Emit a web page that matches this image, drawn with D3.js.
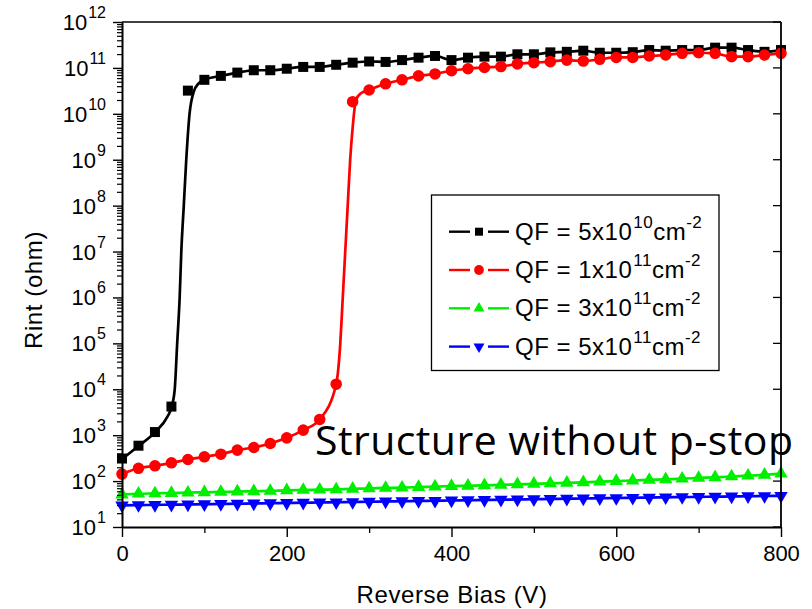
<!DOCTYPE html>
<html>
<head>
<meta charset="utf-8">
<script src="https://d3js.org/d3.v7.min.js"></script>
<style>
  body { margin: 0; background: #fff; }
  svg text { font-family: Arial, "Liberation Sans", sans-serif; fill: #000; }
</style>
</head>
<body>
<div id="chart"></div>
<script>
// bias steps (V) shared by all series
var biasV = d3.range(0, 801, 20);

// measured points, Rint (ohm)
var qf5e10 = [310, 590, 1170, 4200, 3.2e10, 5.5e10, 6.7e10, 7.9e10, 8.9e10, 8.9e10,
  9.6e10, 1.05e11, 1.05e11, 1.17e11, 1.3e11, 1.38e11, 1.35e11, 1.48e11, 1.67e11, 1.82e11,
  1.48e11, 1.67e11, 1.76e11, 1.76e11, 1.98e11, 1.98e11, 2.18e11, 2.24e11, 2.37e11, 2.14e11,
  2.14e11, 2.2e11, 2.45e11, 2.37e11, 2.45e11, 2.45e11, 2.76e11, 2.76e11, 2.45e11, 2.24e11, 2.45e11];
var qf1e11 = [142, 190, 215, 250, 295, 338, 386, 473, 540, 660,
  875, 1290, 2200, 12900, 1.84e10, 3.3e10, 4.5e10, 5.5e10, 6.7e10, 7.4e10,
  8.7e10, 9.6e10, 1.02e11, 1.07e11, 1.22e11, 1.3e11, 1.37e11, 1.48e11, 1.41e11, 1.54e11,
  1.69e11, 1.69e11, 1.82e11, 1.91e11, 2.08e11, 2.14e11, 2.08e11, 1.76e11, 1.76e11, 1.91e11, 2.08e11];
var qf3e11 = [51, 53, 54, 55, 56, 57, 58, 59, 60, 61,
  63, 64, 65, 66, 68, 69, 71, 72, 74, 76,
  78, 79, 81, 83, 85, 87, 89, 92, 94, 97,
  100, 103, 106, 109, 113, 117, 121, 126, 131, 137, 145];
var qf5e11 = [29.5, 30, 30.3, 30.7, 31, 31.4, 31.8, 32.2, 32.6, 33,
  33.4, 33.8, 34.2, 34.6, 35, 35.5, 36, 36.4, 36.9, 37.3,
  37.8, 38.3, 38.8, 39.3, 39.8, 40.3, 40.8, 41.3, 41.8, 42.3,
  42.8, 43.3, 43.8, 44.3, 44.8, 45.3, 45.8, 46.3, 46.8, 47.3, 47.8];

// fitted curves through the steep turn-on
var fitBlackV = [0, 20, 40, 55, 60, 64, 67, 70, 72, 75, 78, 82, 87, 93, 100];
var fitBlackR = [300, 580, 1150, 2500, 4000, 1e4, 1e5, 1e6, 1e7, 1e8, 1e9, 1e10, 3e10, 4.6e10, 5.5e10];
var fitRedV = [260, 265, 268, 271, 274, 277, 280, 284, 290, 300];
var fitRedR = [12900, 1e5, 1e6, 1e7, 1e8, 1e9, 5e9, 2e10, 2.8e10, 3.3e10];

var seriesNames = ["5x10|10", "1x10|11", "3x10|11", "5x10|11"];
var seriesColors = ["#000000", "#ff0000", "#00ee00", "#0000ff"];

var yTickExp = d3.range(1, 13);
var xTicks = [0, 200, 400, 600, 800];

var W = 812, H = 609;
var margin = {left: 122, right: 31, top: 22, bottom: 82};

var svg = d3.select("#chart").append("svg")
  .attr("width", W).attr("height", H);

var x = d3.scaleLinear().domain([0, 800]).range([margin.left, W - margin.right]);
var y = d3.scaleLog().domain([10, 1e12]).range([H - margin.bottom, margin.top]);

function pts(vals) {
  return biasV.map(function(v, i) { return [v, vals[i]]; });
}

// line paths: black & red use the fit in the steep part, then follow points
var blackLine = fitBlackV.map(function(v, i) { return [v, fitBlackR[i]]; })
  .concat(pts(qf5e10).filter(function(d) { return d[0] > 100; }));
var redLine = pts(qf1e11).filter(function(d) { return d[0] < 260; })
  .concat(fitRedV.map(function(v, i) { return [v, fitRedR[i]]; }))
  .concat(pts(qf1e11).filter(function(d) { return d[0] > 300; }));

var lineGen = d3.line()
  .x(function(d) { return x(d[0]); })
  .y(function(d) { return y(d[1]); })
  .curve(d3.curveMonotoneX);

var lines = [blackLine, redLine, pts(qf3e11), pts(qf5e11)];
var marks = [pts(qf5e10), pts(qf1e11), pts(qf3e11), pts(qf5e11)];
var symbols = [
  d3.symbol().type(d3.symbolSquare).size(100),
  d3.symbol().type(d3.symbolCircle).size(105),
  d3.symbol().type(d3.symbolTriangle).size(78),
  d3.symbol().type(d3.symbolTriangle).size(78)
];
var legendSymbols = [
  d3.symbol().type(d3.symbolSquare).size(64),
  d3.symbol().type(d3.symbolCircle).size(75),
  d3.symbol().type(d3.symbolTriangle).size(52),
  d3.symbol().type(d3.symbolTriangle).size(52)
];
var rot = [0, 0, 0, 180];

var plot = svg.append("g");
lines.forEach(function(l, i) {
  plot.append("path")
    .attr("d", lineGen(l))
    .attr("fill", "none")
    .attr("stroke", seriesColors[i])
    .attr("stroke-width", 2.7);
  plot.selectAll(null)
    .data(marks[i])
    .enter().append("path")
    .attr("d", symbols[i])
    .attr("transform", function(d) {
      return "translate(" + x(d[0]) + "," + y(d[1]) + ") rotate(" + rot[i] + ")";
    })
    .attr("fill", seriesColors[i]);
});

// frame: top + right
svg.append("line")
  .attr("x1", x(0)).attr("x2", x(800)).attr("y1", y(1e12)).attr("y2", y(1e12))
  .attr("stroke", "#000").attr("stroke-width", 1.5);
svg.append("line")
  .attr("x1", x(800)).attr("x2", x(800)).attr("y1", y(1e12)).attr("y2", y(10))
  .attr("stroke", "#000").attr("stroke-width", 1.8);
svg.selectAll(null).data(yTickExp).enter().append("line")
  .attr("x1", x(800) - 8).attr("x2", x(800))
  .attr("y1", function(e) { return y(Math.pow(10, e)); })
  .attr("y2", function(e) { return y(Math.pow(10, e)); })
  .attr("stroke", "#000").attr("stroke-width", 1.3);

// left axis with minor ticks
var minorY = [];
yTickExp.forEach(function(e) {
  if (e > 1) d3.range(2, 10).forEach(function(k) { minorY.push(k * Math.pow(10, e - 1)); });
});
svg.append("g")
  .attr("transform", "translate(" + x(0) + ",0)")
  .call(d3.axisLeft(y).tickValues(minorY).tickSize(5).tickFormat(""))
  .call(function(g) { g.select(".domain").remove(); })
  .selectAll("line").attr("stroke-width", 1.2);
var yAxis = svg.append("g")
  .attr("transform", "translate(" + x(0) + ",0)")
  .call(d3.axisLeft(y).tickValues(yTickExp.map(function(e) { return Math.pow(10, e); }))
    .tickSize(9).tickSizeOuter(0).tickFormat(""));
yAxis.select(".domain").attr("stroke-width", 2);
yAxis.selectAll("line").attr("stroke-width", 1.4);

var yLab = svg.selectAll(null).data(yTickExp).enter().append("text")
  .attr("x", 106)
  .attr("y", function(e) { return y(Math.pow(10, e)) + 8; })
  .attr("text-anchor", "end")
  .style("font-size", "22px");
yLab.append("tspan").text("10");
yLab.append("tspan").attr("dy", -12).attr("dx", 1).style("font-size", "16px").text(function(e) { return e; });

// bottom axis
svg.append("g")
  .attr("transform", "translate(0," + y(10) + ")")
  .call(d3.axisBottom(x).tickValues([100, 300, 500, 700]).tickSize(6).tickFormat(""))
  .call(function(g) { g.select(".domain").remove(); })
  .selectAll("line").attr("stroke-width", 1.3);
var xAxis = svg.append("g")
  .attr("transform", "translate(0," + y(10) + ")")
  .call(d3.axisBottom(x).tickValues(xTicks).tickSize(10).tickSizeOuter(0).tickPadding(8));
xAxis.select(".domain").attr("stroke-width", 2);
xAxis.selectAll("line").attr("stroke-width", 1.4);
xAxis.selectAll("text")
  .style("font-size", "22px")
  .style("font-family", "Arial, 'Liberation Sans', sans-serif")
  .attr("fill", "#000");

// axis titles
svg.append("text")
  .attr("x", 452)
  .attr("y", 603)
  .attr("text-anchor", "middle")
  .style("font-size", "24px")
  .style("letter-spacing", "0.6px")
  .text("Reverse Bias (V)");
svg.append("text")
  .attr("transform", "translate(42,290) rotate(-90)")
  .attr("text-anchor", "middle")
  .style("font-size", "24px")
  .style("letter-spacing", "0.6px")
  .text("Rint (ohm)");

// legend
var leg = svg.append("g");
leg.append("rect")
  .attr("x", 431.5).attr("y", 195).attr("width", 287.5).attr("height", 175.5)
  .attr("fill", "#fff").attr("stroke", "#000").attr("stroke-width", 1.3);
seriesNames.forEach(function(s, i) {
  var ly = 231.7 + i * 38.3;
  var parts = s.split("|");
  [[449, 470], [488, 509]].forEach(function(seg) {
    leg.append("line")
      .attr("x1", seg[0]).attr("x2", seg[1]).attr("y1", ly).attr("y2", ly)
      .attr("stroke", seriesColors[i]).attr("stroke-width", 2.4);
  });
  leg.append("path")
    .attr("d", legendSymbols[i])
    .attr("transform", "translate(479," + ly + ") rotate(" + rot[i] + ")")
    .attr("fill", seriesColors[i]);
  var t = leg.append("text")
    .attr("x", 515).attr("y", ly + 8)
    .style("font-size", "24px")
    .style("letter-spacing", "0.5px");
  t.append("tspan").text("QF = " + parts[0]);
  t.append("tspan").attr("dy", -12).attr("dx", 1).style("font-size", "17px").text(parts[1]);
  t.append("tspan").attr("dy", 12).text("cm");
  t.append("tspan").attr("dy", -12).style("font-size", "17px").text("-2");
});

// annotation
svg.append("text")
  .attr("x", 315).attr("y", 455)
  .style("font-family", "'Open Sans', sans-serif")
  .style("font-size", "41px")
  .attr("textLength", 478)
  .attr("lengthAdjust", "spacing")
  .text("Structure without p-stop");
</script>
</body>
</html>
